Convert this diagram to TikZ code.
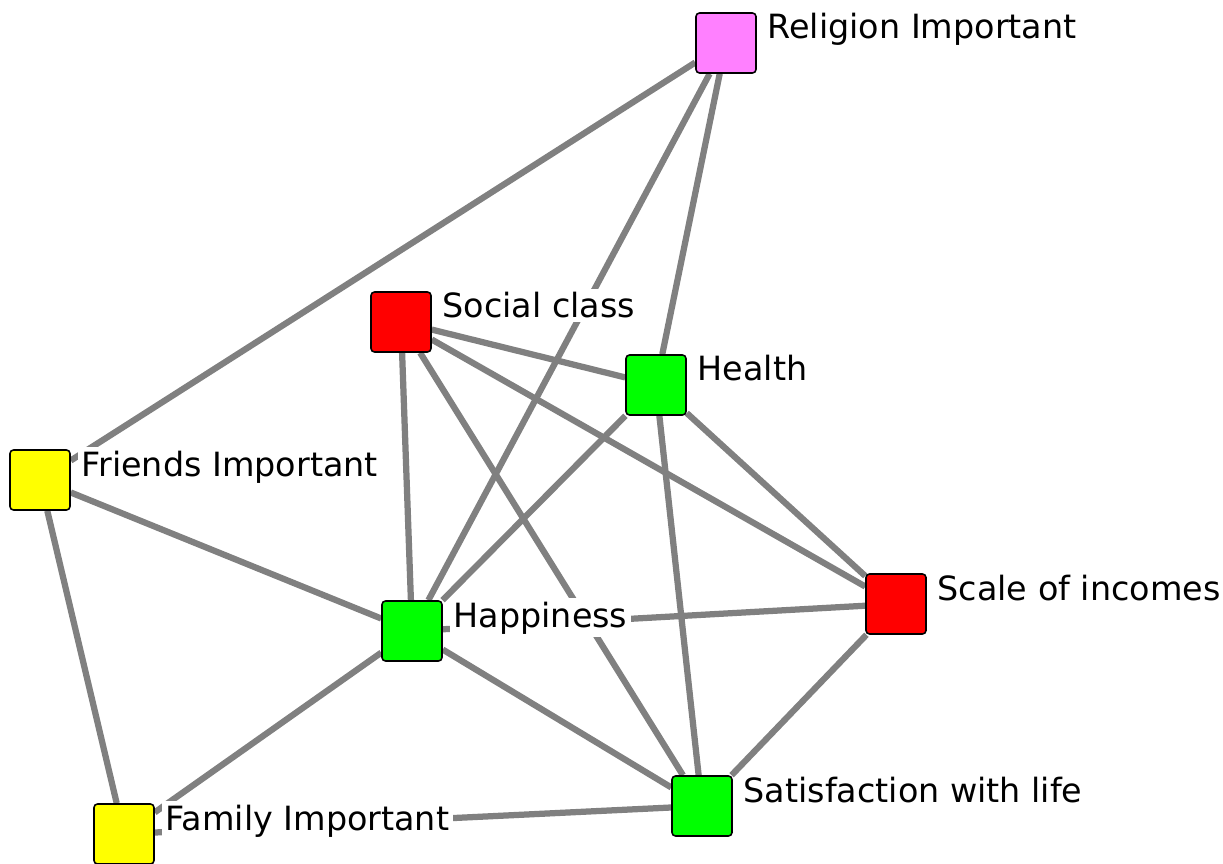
\documentclass[tikz,border=0pt]{standalone}
\usepackage{fontspec}
\setmainfont{DejaVu Sans}
\usetikzlibrary{backgrounds}
\definecolor{grn}{RGB}{0,255,0}
\definecolor{rd}{RGB}{255,0,0}
\definecolor{ylw}{RGB}{255,255,0}
\definecolor{pnk}{RGB}{255,128,255}
\definecolor{edg}{RGB}{128,128,128}

\begin{document}
\begin{tikzpicture}[x=0.02cm,y=-0.02cm,
    box/.style={draw=black,line width=0.9pt,rounded corners=2pt,minimum size=1.2cm,inner sep=0pt},
    lbl/.style={fill=white,inner sep=2pt,anchor=base west,font=\fontsize{19}{23}\selectfont},
    link/.style={edg,line width=0.125cm}]
            \useasboundingbox (0,0) rectangle (1223,864);
            \node[box,fill=pnk] (religion) at (726,43){};
            \node[box,fill=rd] (social) at (401,322){};
            \node[box,fill=grn] (health) at (656,385){};
            \node[box,fill=ylw] (friends) at (40,480){};
            \node[box,fill=rd] (scale) at (896,604){};
            \node[box,fill=grn] (happy) at (412,631){};
            \node[box,fill=grn] (satisf) at (702,806){};
            \node[box,fill=ylw] (family) at (124,834){};
            \node[lbl] (religiontxt) at ([xshift=0.14cm,yshift=0.08cm]religion.east) {Religion Important};
            \node[lbl] (socialtxt) at ([xshift=0.14cm,yshift=0.08cm]social.east) {Social class};
            \node[lbl] (healthtxt) at ([xshift=0.14cm,yshift=0.08cm]health.east) {Health};
            \node[lbl] (friendstxt) at ([xshift=0.14cm,yshift=0.08cm]friends.east) {Friends Important};
            \node[lbl] (scaletxt) at ([xshift=0.14cm,yshift=0.08cm]scale.east) {Scale of incomes};
            \node[lbl] (happytxt) at ([xshift=0.14cm,yshift=0.08cm]happy.east) {Happiness};
            \node[lbl] (satisftxt) at ([xshift=0.14cm,yshift=0.08cm]satisf.east) {Satisfaction with life};
            \node[lbl] (familytxt) at ([xshift=0.14cm,yshift=0.08cm]family.east) {Family Important};
            \begin{scope}[on background layer]
            \draw[link] (religion) -- (friends);
            \draw[link] (religion) -- (happy);
            \draw[link] (religion) -- (health);
            \draw[link] (social) -- (health);
            \draw[link] (social) -- (scale);
            \draw[link] (social) -- (happy);
            \draw[link] (social) -- (satisf);
            \draw[link] (health) -- (happy);
            \draw[link] (health) -- (scale);
            \draw[link] (health) -- (satisf);
            \draw[link] (friends) -- (happy);
            \draw[link] (friends) -- (family);
            \draw[link] (happy) -- (scale);
            \draw[link] (happy) -- (satisf);
            \draw[link] (happy) -- (family);
            \draw[link] (scale) -- (satisf);
            \draw[link] (family) -- (satisf);
            \end{scope}
        \end{tikzpicture}
\end{document}
